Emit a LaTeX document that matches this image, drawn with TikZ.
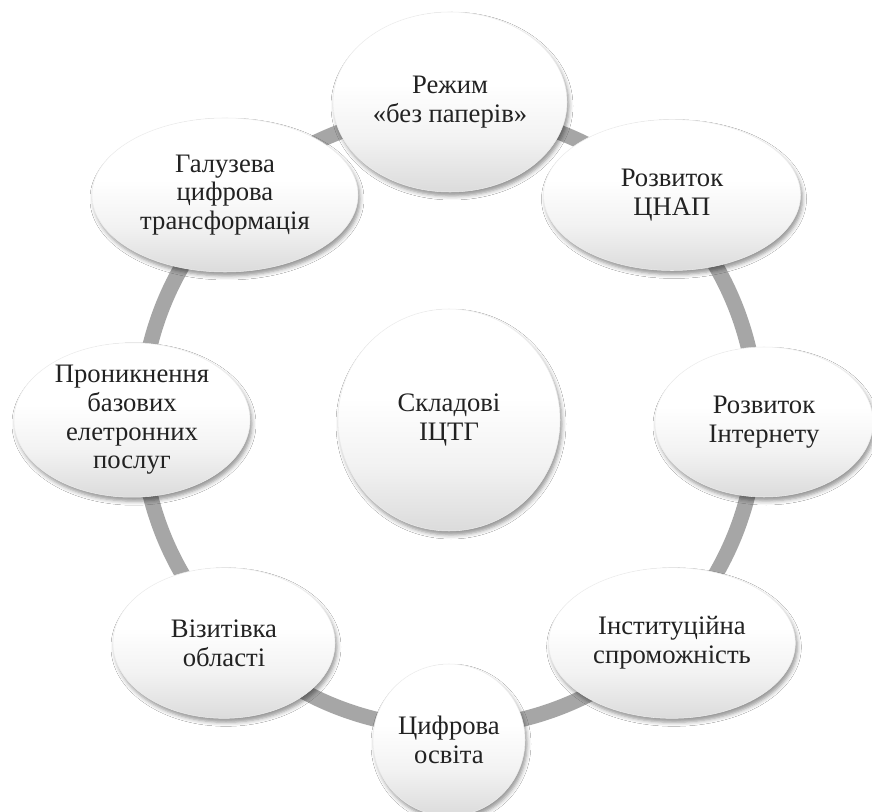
\documentclass[tikz,border=0pt]{standalone}
\usepackage{fontspec}
\setmainfont{Liberation Serif}
\usetikzlibrary{shapes.geometric,shadows.blur}
\definecolor{ringgray}{HTML}{A6A6A6}
\definecolor{txt}{HTML}{222222}
\pgfdeclareverticalshading{bubshade}{100bp}{color(0bp)=(black!16); color(25bp)=(black!14); color(40bp)=(black!5); color(55bp)=(white); color(100bp)=(white)}
\tikzset{
  bub/.style={ellipse, inner sep=0pt, align=center, text=txt,
    font=\fontsize{20}{21.5}\selectfont,
    shading=bubshade, draw=black!7, line width=0.4pt,
    blur shadow={shadow xshift=1.5pt, shadow yshift=-3pt, shadow blur radius=3pt, shadow opacity=42}},
  ring/.style={draw=ringgray, line width=11.5pt}
}
\begin{document}
\begin{tikzpicture}[x=0.75pt, y=-0.75pt]
\useasboundingbox[fill=white] (0,0) rectangle (872,812);
\coordinate (o) at (449,420);
\draw[ring] (o) circle [radius=231pt];
\node[bub, minimum width=166.5pt, minimum height=166.5pt] (c) at (449,420) {Складові\\ІЦТГ};
\node[bub, minimum width=175.5pt, minimum height=135pt] (n1) at (450,102) {Режим\\«без паперів»};
\node[bub, minimum width=192.75pt, minimum height=113.25pt] (n2) at (672,195) {Розвиток\\ЦНАП};
\node[bub, minimum width=163.5pt, minimum height=112.5pt] (n3) at (764,422) {Розвиток\\Інтернету};
\node[bub, minimum width=185pt, minimum height=113pt] (n4) at (672,643) {Інституційна\\спроможність};
\node[bub, minimum width=114pt, minimum height=114pt] (n5) at (449,740) {Цифрова\\освіта};
\node[bub, minimum width=166.5pt, minimum height=113pt] (n6) at (224,643) {Візитівка\\області};
\node[bub, minimum width=177pt, minimum height=115pt] (n7) at (132,420) {Проникнення\\базових\\елетронних\\послуг};
\node[bub, minimum width=199.5pt, minimum height=115.5pt] (n8) at (225,195) {Галузева\\цифрова\\трансформація};
\end{tikzpicture}
\end{document}
